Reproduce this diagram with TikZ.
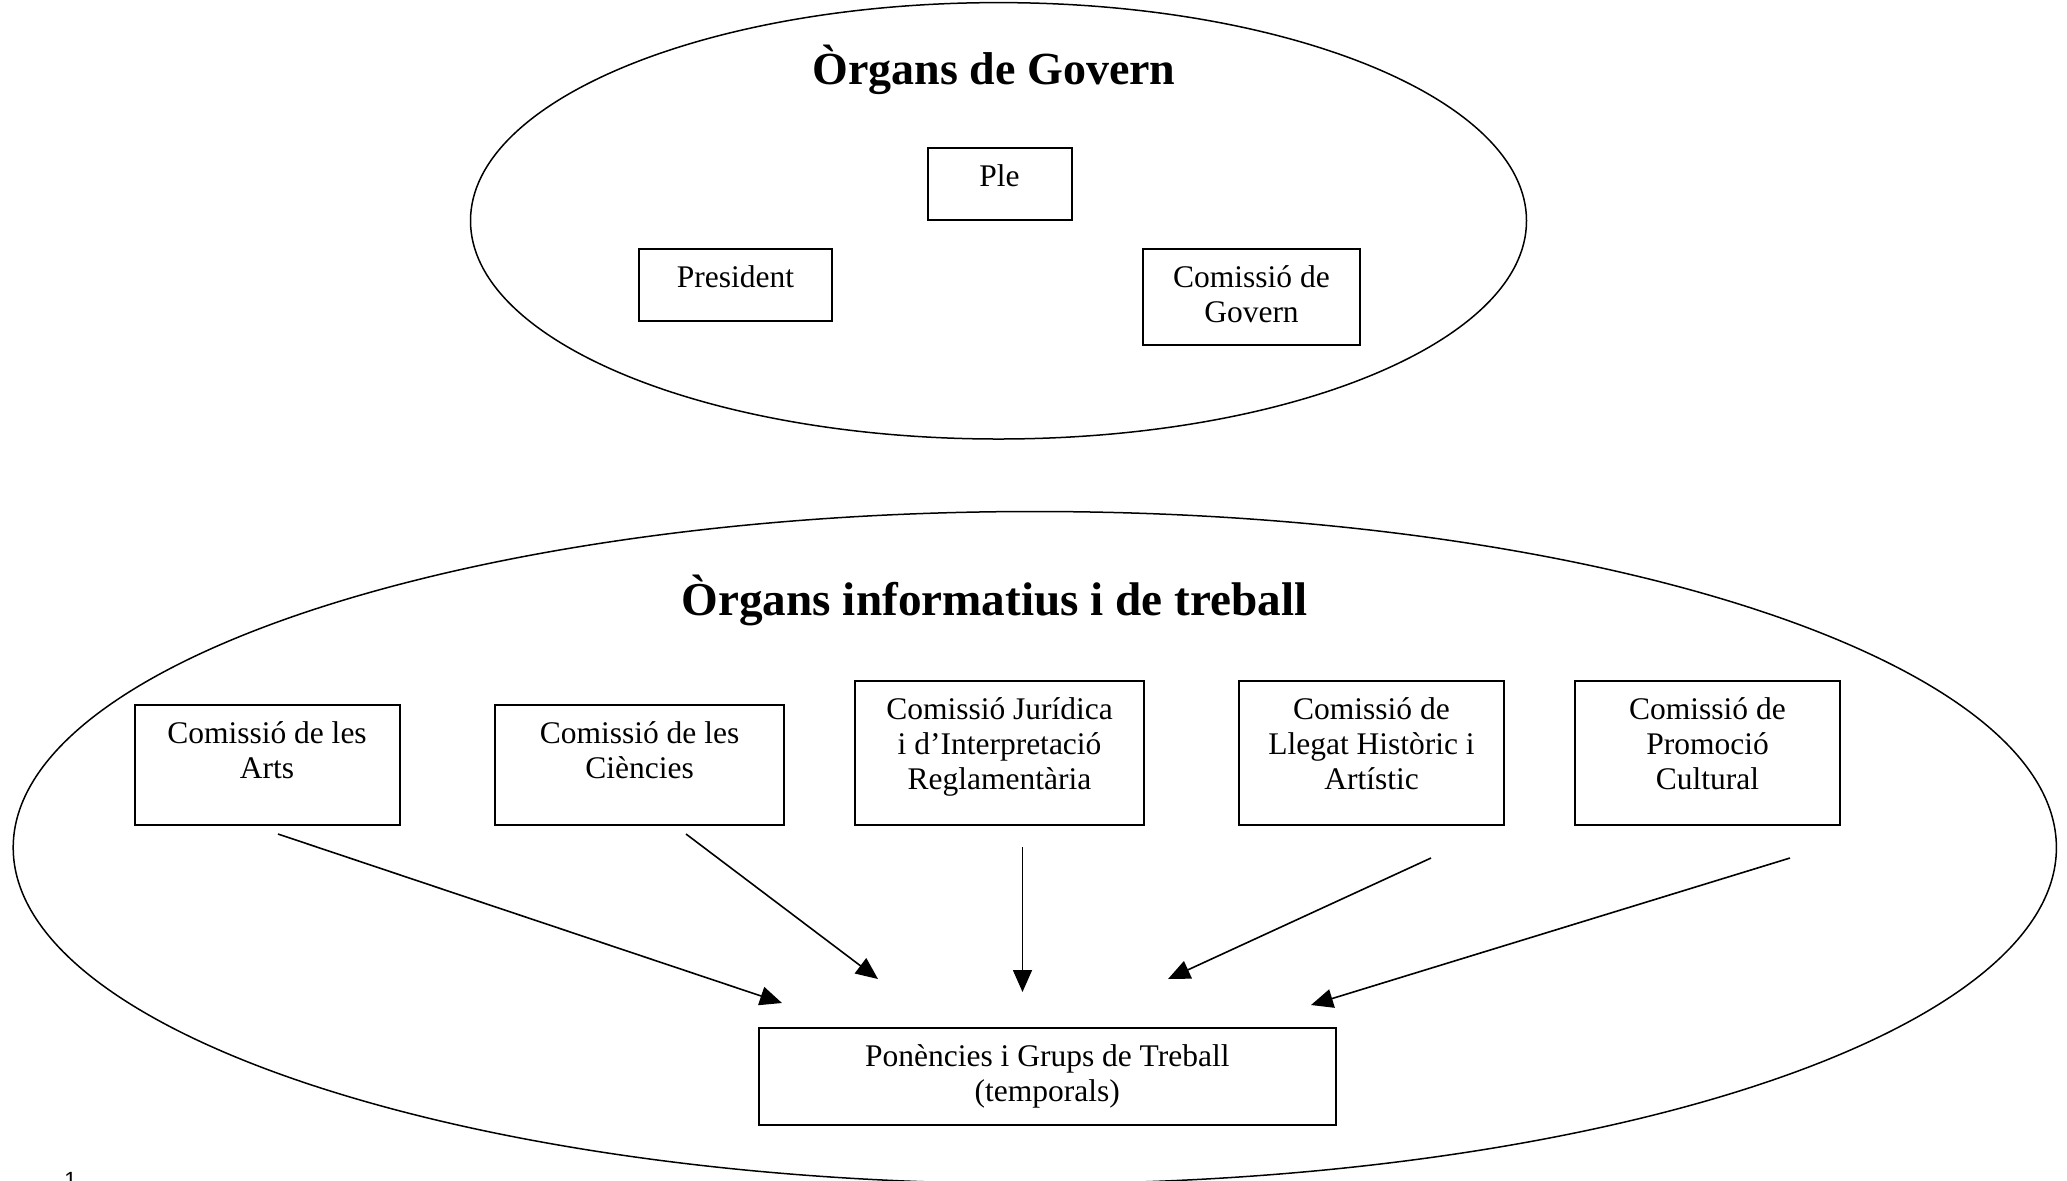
\documentclass[tikz,border=0pt]{standalone}
\usepackage{fontspec}
\setmainfont{Liberation Serif}
\newfontfamily\pagenumfont{Liberation Sans}
\usetikzlibrary{arrows.meta}
\newcommand\boxtext[3]{\parbox[c][#2][t]{#1}{\centering\rule{0pt}{19pt}#3}}
\begin{document}
\begin{tikzpicture}[x=0.5pt,y=-0.5pt,
  orgbox/.style={draw, line width=1pt, inner sep=0pt, anchor=north west,
    font=\fontsize{15.75pt}{17.5pt}\selectfont},
  grouptitle/.style={anchor=base, inner sep=0pt, font=\bfseries\fontsize{23pt}{27pt}\selectfont},
  groupline/.style={line width=0.75pt},
  feed/.style={line width=0.8pt, -{Triangle[length=11pt,width=9.5pt]}}]
\useasboundingbox (0,0) rectangle (2067,1180);

% groups
\draw[groupline] (998.5,220.8) ellipse [x radius=528, y radius=218.2];
\draw[groupline] (1034.8,847.6) ellipse [x radius=1021.6, y radius=336.1];

\node[grouptitle] (govtitle) at (994,84) {Òrgans de Govern};
\node[grouptitle, font=\bfseries\fontsize{23.6pt}{27pt}\selectfont] (infotitle) at (994.6,615) {Òrgans informatius i de treball};

% governing bodies
\node[orgbox] (ple) at (926.5,147) {\boxtext{72pt}{36pt}{Ple}};
\node[orgbox] (president) at (638,248) {\boxtext{96.5pt}{36pt}{President}};
\node[orgbox] (comgov) at (1142,248) {\boxtext{108.5pt}{48pt}{Comissió de\\Govern}};

% commissions
\node[orgbox] (arts) at (133.5,704) {\boxtext{132.5pt}{60pt}{Comissió de les\\Arts}};
\node[orgbox] (ciencies) at (494.3,704) {\boxtext{144.25pt}{60pt}{Comissió de les\\Ciències}};
\node[orgbox] (juridica) at (854.2,680.2) {\boxtext{144.35pt}{71.85pt}{Comissió Jurídica\\i d’Interpretació\\Reglamentària}};
\node[orgbox] (llegat) at (1238,680.2) {\boxtext{132.5pt}{71.85pt}{Comissió de\\Llegat Històric i\\Artístic}};
\node[orgbox] (promocio) at (1574,680.2) {\boxtext{132.5pt}{71.85pt}{Comissió de\\Promoció\\Cultural}};
\node[orgbox] (ponencies) at (757.8,1027) {\boxtext{288.5pt}{48.5pt}{Ponències i Grups de Treball\\(temporals)}};

% arrow ends
\coordinate (s1) at (278,834);    \coordinate (e1) at (782,1003);
\coordinate (s2) at (686,834);    \coordinate (e2) at (878,979);
\coordinate (s3) at (1022.5,847); \coordinate (e3) at (1022.5,992);
\coordinate (s4) at (1431,858);   \coordinate (e4) at (1168,979);
\coordinate (s5) at (1790,858);   \coordinate (e5) at (1311,1005);
\draw[feed] (s1) -- (e1);
\draw[feed] (s2) -- (e2);
\draw[feed] (s3) -- (e3);
\draw[feed] (s4) -- (e4);
\draw[feed] (s5) -- (e5);

\node[anchor=north west, inner sep=0pt, font=\pagenumfont\fontsize{11pt}{13pt}\selectfont] (pagenum) at (64,1172) {1};
\end{tikzpicture}
\end{document}
